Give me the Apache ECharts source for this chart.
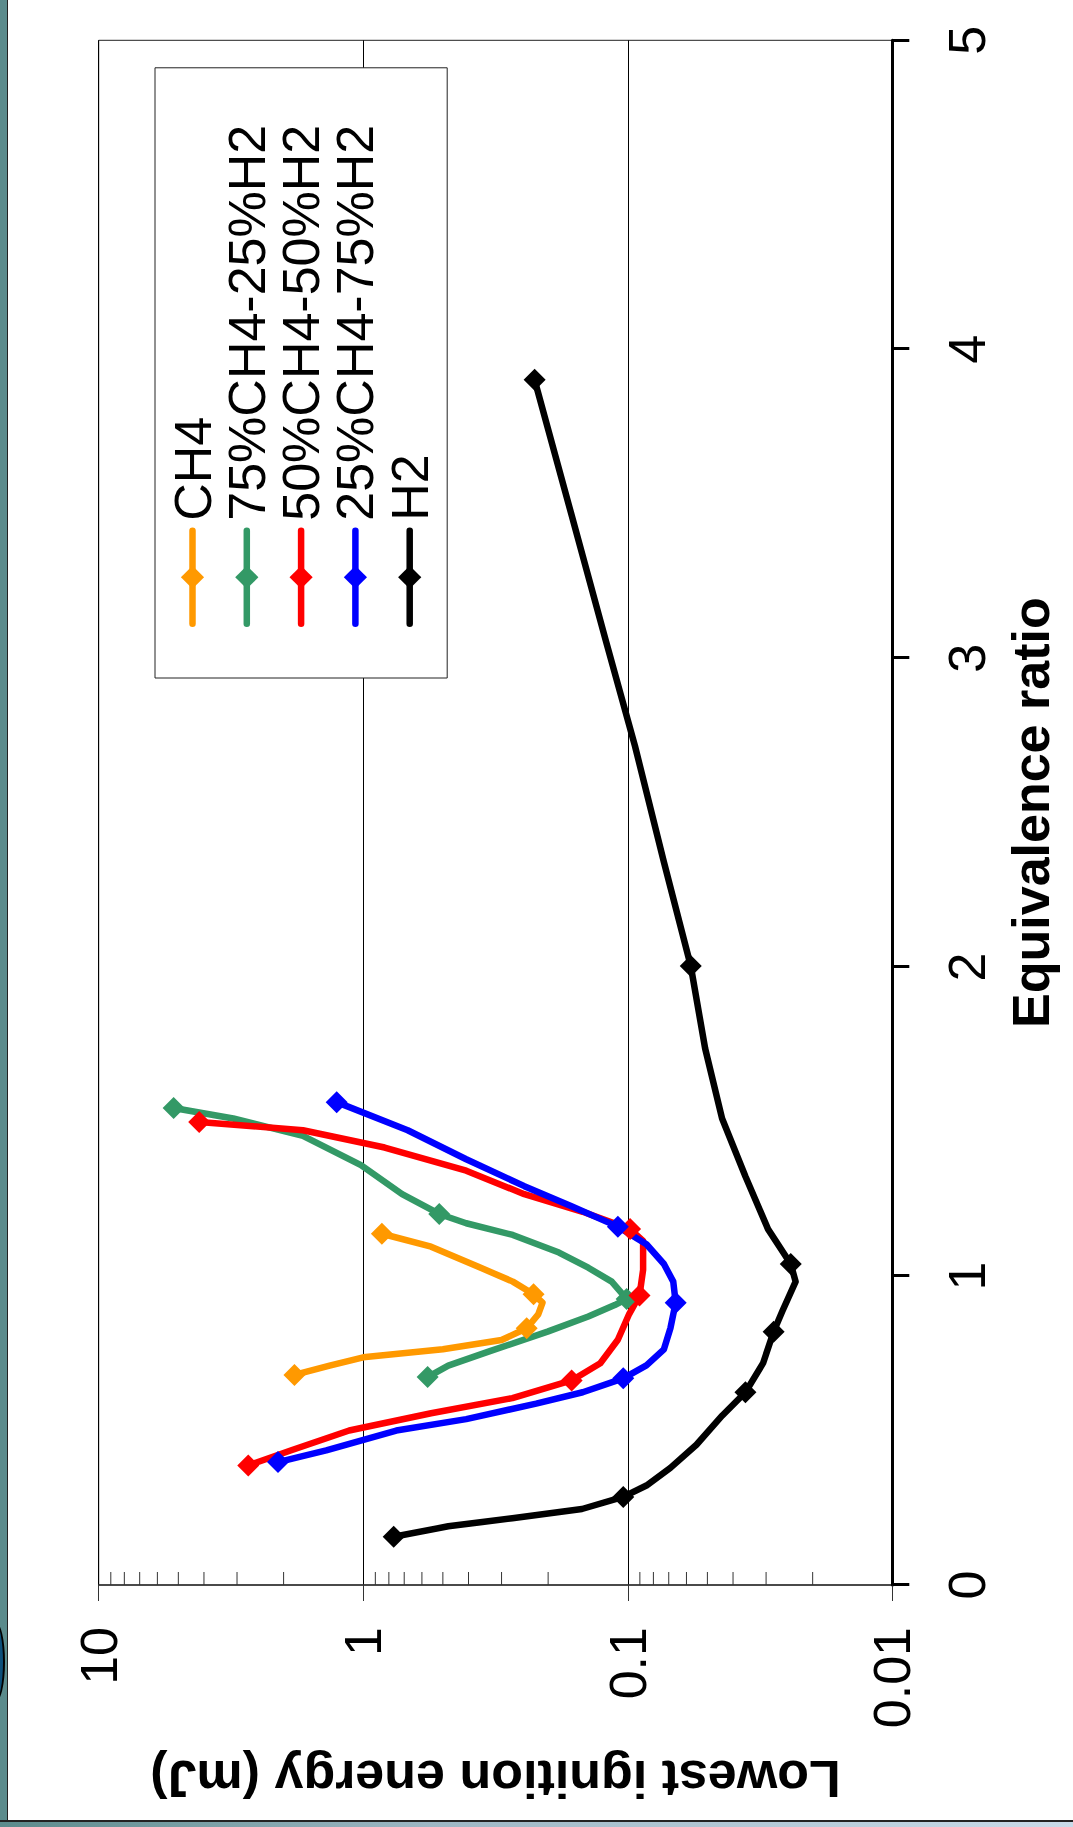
<!DOCTYPE html>
<html><head><meta charset="utf-8">
<script src="https://cdn.jsdelivr.net/npm/echarts@6/dist/echarts.min.js"></script>
<style>
html,body{margin:0;padding:0;width:1073px;height:1827px;overflow:hidden;background:#fff;}
#chart{position:absolute;left:0;top:0;width:1827px;height:1073px;transform-origin:0 0;transform:translate(0,1827px) rotate(-90deg);}
#lb{position:absolute;left:0;top:0;width:6.5px;height:1827px;background:#5b8b8c;border-right:1.5px solid #222;z-index:5;}
#bl{position:absolute;left:0;top:1820px;width:1073px;height:1.5px;background:#222;z-index:6;}
#bb{position:absolute;left:0;top:1821.5px;width:1073px;height:6px;background:linear-gradient(to right,#5b8b8c,#9db7c4 40%,#c9dbe9);z-index:6;}
#ov{position:absolute;left:-14px;top:1622px;width:15px;height:76px;border-radius:50%;border:2px solid #000;background:#0d4f7a;z-index:7;}
</style></head>
<body>
<div id="chart"></div><div id="lb"></div><div id="bl"></div><div id="bb"></div><div id="ov"></div>
<script>
// ---- data (x: equivalence ratio, y: lowest ignition energy in mJ); mk=1 marks points drawn with a diamond
const seriesNames = ['CH4','75%CH4-25%H2','50%CH4-50%H2','25%CH4-75%H2','H2'];
const seriesColors = ['#ff9900','#339966','#ff0000','#0000ff','#000000'];

const phiCH4 = [0.68,0.71,0.737,0.763,0.793,0.831,0.876,0.914,0.941,0.982,1.031,1.095,1.137];
const eCH4   = [1.82,1.34,1.00,0.50,0.30,0.241,0.218,0.21,0.227,0.272,0.369,0.554,0.85];
const mkCH4  = [1,0,0,0,0,1,0,0,1,0,0,0,1];

const phi75 = [0.673,0.710,0.756,0.820,0.869,0.906,0.926,0.982,1.027,1.076,1.133,1.171,1.201,1.265,1.359,1.454,1.510,1.544];
const e75   = [0.571,0.477,0.334,0.201,0.141,0.112,0.101,0.115,0.141,0.182,0.272,0.408,0.516,0.713,1.02,1.69,3.10,5.21];
const mk75  = [1,0,0,0,0,0,1,0,0,0,0,0,1,0,0,0,0,1];

const phi50 = [0.387,0.436,0.500,0.556,0.605,0.662,0.718,0.794,0.877,0.937,1.02,1.114,1.152,1.208,1.265,1.341,1.416,1.472,1.499];
const e50   = [2.72,1.87,1.13,0.554,0.273,0.163,0.127,0.109,0.0988,0.0903,0.0875,0.0875,0.098,0.148,0.246,0.408,0.83,1.69,4.17];
const mk50  = [1,0,0,0,0,1,0,0,0,1,0,0,1,0,0,0,0,0,1];

const phi25 = [0.398,0.436,0.500,0.537,0.587,0.624,0.669,0.711,0.763,0.831,0.914,0.982,1.039,1.103,1.160,1.227,1.291,1.378,1.472,1.563];
const e25   = [2.10,1.38,0.75,0.408,0.222,0.148,0.104,0.085,0.073,0.069,0.0659,0.0673,0.073,0.085,0.109,0.164,0.246,0.408,0.679,1.26];
const mk25  = [1,0,0,0,0,0,1,0,0,0,1,0,0,0,1,0,0,0,0,1];

const phiH2 = [0.156,0.190,0.216,0.246,0.285,0.322,0.379,0.454,0.548,0.624,0.718,0.820,0.888,0.982,1.039,1.152,1.322,1.51,1.737,2.004,2.34,2.717,3.056,3.471,3.901];
const eH2   = [0.767,0.477,0.273,0.149,0.104,0.085,0.069,0.055,0.044,0.0359,0.0308,0.0281,0.026,0.0232,0.0242,0.0295,0.0359,0.044,0.051,0.0578,0.073,0.094,0.121,0.164,0.225];
const mkH2  = [1,0,0,0,1,0,0,0,0,1,0,1,0,0,1,0,0,0,0,1,0,0,0,0,1];

const xTicks = [0,1,2,3,4,5];
const yTickLabels = ['0.01','0.1','1','10'];
const minorTickValues = [0.02,0.03,0.04,0.05,0.06,0.07,0.08,0.09,0.2,0.3,0.4,0.5,0.6,0.7,0.8,0.9,2,3,4,5,6,7,8,9];

const allPhi = [phiCH4,phi75,phi50,phi25,phiH2];
const allE = [eCH4,e75,e50,e25,eH2];
const allMk = [mkCH4,mk75,mk50,mk25,mkH2];

const FONT = '"Liberation Sans", Arial, sans-serif';

const lineSeries = seriesNames.map((name,i)=>({
  name: name,
  type: 'line',
  symbol: 'diamond',
  symbolSize: 22,
  showAllSymbol: true,
  color: seriesColors[i],
  lineStyle: {width: 6.5, color: seriesColors[i], cap: 'round', join: 'round'},
  itemStyle: {color: seriesColors[i]},
  emphasis: {disabled: true},
  animation: false,
  clip: false,
  data: allPhi[i].map((p,j)=>({value:[p, allE[i][j]], symbol: allMk[i][j] ? 'diamond' : 'none'}))
}));

const minorTickSeries = {
  type: 'custom',
  silent: true,
  animation: false,
  clip: false,
  data: minorTickValues.map(v=>[0,v]),
  renderItem: function(params, api){
    const c = api.coord([0, api.value(1)]);
    return {type:'line', shape:{x1:c[0], y1:c[1], x2:c[0]+13, y2:c[1]}, style:{stroke:'#333', lineWidth:1}};
  }
};

const chart = echarts.init(document.getElementById('chart'), null, {renderer:'svg', width:1827, height:1073});
chart.setOption({
  animation: false,
  backgroundColor: '#fff',
  textStyle: {fontFamily: FONT},
  grid: {left:242, right:40.3, top:98.7, bottom:180.7, show:true, borderColor:'#222', borderWidth:1, backgroundColor:'transparent'},
  xAxis: {
    type:'value', min:0, max:5, interval:1,
    axisLine:{show:true, lineStyle:{color:'#000', width:3}},
    axisTick:{show:true, inside:false, length:17, lineStyle:{color:'#000', width:3}},
    axisLabel:{fontSize:52, color:'#000', margin:49, fontFamily:FONT, formatter: v => String(xTicks[Math.round(v)])},
    splitLine:{show:false},
    name:'Equivalence ratio', nameLocation:'middle', nameGap:113,
    nameTextStyle:{fontSize:52, fontWeight:'bold', color:'#000', fontFamily:FONT}
  },
  yAxis: {
    type:'log', logBase:10, min:0.01, max:10,
    axisLine:{show:true, lineStyle:{color:'#333', width:1.5}},
    axisTick:{show:true, inside:false, length:16, lineStyle:{color:'#333', width:1}},
    minorTick:{show:false},
    axisLabel:{fontSize:52, color:'#000', margin:42, fontFamily:FONT,
      formatter: v => yTickLabels[Math.round(Math.log10(v))+2]},
    splitLine:{show:true, lineStyle:{color:'#000', width:1}},
    name:'Lowest ignition energy (mJ)', nameLocation:'middle', nameRotate:90, nameGap:168,
    nameTextStyle:{fontSize:52, fontWeight:'bold', color:'#000', fontFamily:FONT}
  },
  legend: {
    orient:'vertical', left:1149, top:155,
    padding:[11.5,57,11.5,51],
    itemWidth:93, itemHeight:29, itemGap:2.3,
    backgroundColor:'#fff', borderColor:'#222', borderWidth:1, borderRadius:0,
    lineStyle:{width:6.5, cap:'round'},
    textStyle:{fontSize:52, lineHeight:52, color:'#000', fontFamily:FONT, padding:[0,0,0,5]},
    selectedMode:false,
    data: seriesNames
  },
  series: lineSeries.concat([minorTickSeries])
});
</script>
</body></html>
